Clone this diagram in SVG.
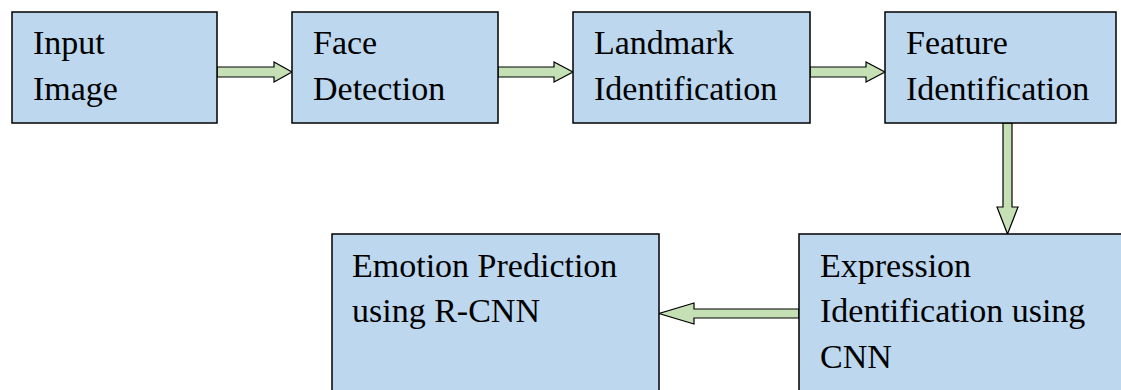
<svg xmlns="http://www.w3.org/2000/svg" width="1121" height="390" viewBox="0 0 1121 390">
<style>
.box{fill:#BDD7EE;stroke:#000;stroke-width:1.5}
.arr{fill:#C5E0B4;stroke:#000;stroke-width:1.2;stroke-linejoin:miter}
text{font-family:"Liberation Serif","Times New Roman",serif;font-size:34px;fill:#000}
</style>
<rect width="1121" height="390" fill="#fff"/>
<g id="connectors">
<path class="arr" d="M217,67 H274 V62 L292,72 L274,82 V77 H217 Z"/>
<path class="arr" d="M498,67 H554 V62 L573,72 L554,82 V77 H498 Z"/>
<path class="arr" d="M810,67 H866 V62 L885,72 L866,82 V77 H810 Z"/>
<path class="arr" d="M1003,123 V207 H997 L1007.5,234 L1018,207 H1012 V123 Z"/>
<path class="arr" d="M799,309 H694 V303 L659,313.5 L694,324 V318 H799 Z"/>
</g>
<g id="input-image">
<rect class="box" x="12" y="12" width="205" height="111"/>
<text x="33" y="54">Input</text>
<text x="33" y="100">Image</text>
</g>
<g id="face-detection">
<rect class="box" x="292" y="12" width="206" height="111"/>
<text x="313" y="54">Face</text>
<text x="313" y="100">Detection</text>
</g>
<g id="landmark-identification">
<rect class="box" x="573" y="12" width="237" height="111"/>
<text x="594" y="54">Landmark</text>
<text x="594" y="100">Identification</text>
</g>
<g id="feature-identification">
<rect class="box" x="885" y="12" width="231" height="111"/>
<text x="906" y="54">Feature</text>
<text x="906" y="100">Identification</text>
</g>
<g id="emotion-prediction">
<rect class="box" x="332" y="234" width="327" height="170"/>
<text x="352" y="277">Emotion Prediction</text>
<text x="352" y="322">using R-CNN</text>
</g>
<g id="expression-identification">
<rect class="box" x="799" y="234" width="340" height="170"/>
<text x="820" y="277">Expression</text>
<text x="820" y="322">Identification using</text>
<text x="820" y="368">CNN</text>
</g>
</svg>
